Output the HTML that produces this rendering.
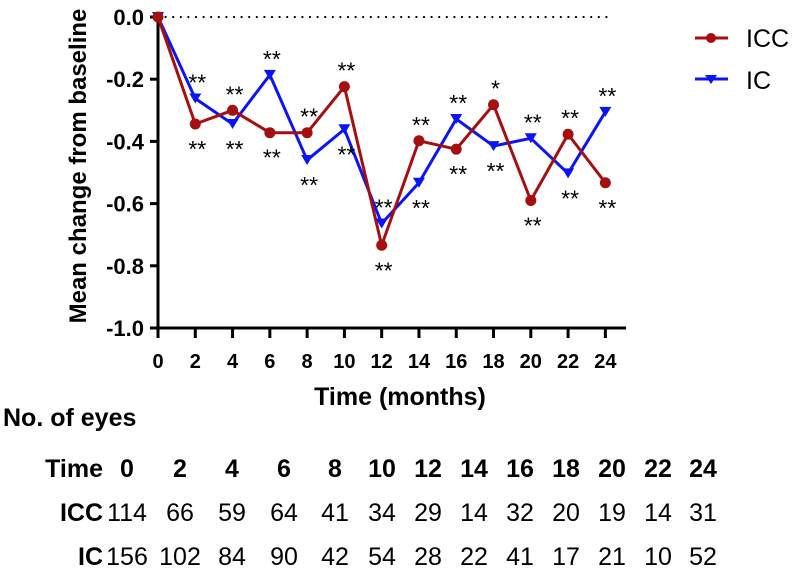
<!DOCTYPE html>
<html><head><meta charset="utf-8"><style>
body{margin:0;background:#fff;}
svg{display:block;font-family:"Liberation Sans",Arial,sans-serif;}
</style></head><body>
<svg id="c" width="796" height="570"></svg>
<script>
const months=[0,2,4,6,8,10,12,14,16,18,20,22,24];
const iccValues=[0,-0.344,-0.30,-0.372,-0.372,-0.224,-0.734,-0.398,-0.425,-0.282,-0.59,-0.377,-0.533];
const icValues=[0,-0.262,-0.344,-0.186,-0.46,-0.361,-0.664,-0.533,-0.328,-0.415,-0.39,-0.503,-0.305];
const iccSig=["","**","**","**","**","**","**","**","**","*","**","**","**"];
const icSig=["","**","**","**","**","**","**","**","**","**","**","**","**"];
const yTicks=[0,-0.2,-0.4,-0.6,-0.8,-1.0];
const yTickLabels=["0.0","-0.2","-0.4","-0.6","-0.8","-1.0"];
const iccCounts=[114,66,59,64,41,34,29,14,32,20,19,14,31];
const icCounts=[156,102,84,90,42,54,28,22,41,17,21,10,52];
const tableCols=[127,180,232,284,335,382,428,474,520,566,612,658,703];

const svg=document.getElementById('c');
const NS='http://www.w3.org/2000/svg';
const X=m=>158+m*18.64;
const Y=v=>17-v*311;
function mk(tag,attrs,text){const e=document.createElementNS(NS,tag);for(const k in attrs)e.setAttribute(k,attrs[k]);if(text!==undefined)e.textContent=text;svg.appendChild(e);return e;}

let e=mk('line',{x1:X(0),x2:X(24)+4,y1:Y(0),y2:Y(0),stroke:'#000','stroke-width':2.2,'stroke-dasharray':'0 7.6','stroke-linecap':'round'});


e=mk('line',{x1:158,x2:158,y1:12,y2:Y(-1)+1.5,stroke:'#000','stroke-width':3});


e=mk('line',{x1:156.5,x2:626,y1:Y(-1),y2:Y(-1),stroke:'#000','stroke-width':3});


yTicks.forEach((t,i)=>{
  e=mk('line',{x1:150,x2:158,y1:Y(t),y2:Y(t),stroke:'#000','stroke-width':3});
  
  
  e=mk('text',{x:144,y:Y(t)+8,'text-anchor':'end','font-size':22,'font-weight':'bold'},yTickLabels[i]);
  
  
});
months.forEach(m=>{
  e=mk('line',{x1:X(m),x2:X(m),y1:Y(-1),y2:Y(-1)+10,stroke:'#000','stroke-width':3});
  
  
  e=mk('text',{x:X(m),y:368,'text-anchor':'middle','font-size':20,'font-weight':'bold'},String(m));
  
  
});
e=mk('text',{x:400,y:405,'text-anchor':'middle','font-size':25,'font-weight':'bold'},'Time (months)');


e=mk('text',{x:0,y:0,'text-anchor':'middle','font-size':24,'font-weight':'bold',transform:'translate(86,166) rotate(-90)'},'Mean change from baseline');



e=mk('polyline',{points:months.map((m,i)=>X(m)+','+Y(icValues[i])).join(' '),fill:'none',stroke:'#0a14f5','stroke-width':3,'stroke-linejoin':'round'});


e=mk('polyline',{points:months.map((m,i)=>X(m)+','+Y(iccValues[i])).join(' '),fill:'none',stroke:'#a50f0f','stroke-width':3,'stroke-linejoin':'round'});


months.forEach((m,i)=>{
  const x=X(m),y=Y(icValues[i]);
  e=mk('polygon',{points:`${x-6},${y-5} ${x+6},${y-5} ${x},${y+5}`,fill:'#0a14f5'});
  
  
});
months.forEach((m,i)=>{
  e=mk('circle',{cx:X(m),cy:Y(iccValues[i]),r:5.5,fill:'#a50f0f'});
  
  
});
months.forEach((m,i)=>{
  if(i===0)return;
  const a=iccValues[i],b=icValues[i];
  const iccAbove=a>b;
  const put=(v,above,txt,name)=>{
    const y=above?Y(v)-8:Y(v)+33;
    e=mk('text',{x:X(m)+2,y:y,'text-anchor':'middle','font-size':23},txt);
    
    
  };
  put(a,iccAbove,iccSig[i],'icc-significance');
  put(b,!iccAbove,icSig[i],'ic-significance');
});

e=mk('line',{x1:695,x2:728,y1:38,y2:38,stroke:'#a50f0f','stroke-width':3});


e=mk('circle',{cx:711,cy:38,r:5,fill:'#a50f0f'});


e=mk('text',{x:746,y:47,'font-size':25},'ICC');


e=mk('line',{x1:695,x2:728,y1:79,y2:79,stroke:'#0a14f5','stroke-width':3});


e=mk('polygon',{points:'705,75 717,75 711,84',fill:'#0a14f5'});


e=mk('text',{x:746,y:89,'font-size':25},'IC');



e=mk('text',{x:3,y:426,'font-size':25,'font-weight':'bold'},'No. of eyes');


const rows=[['Time',months,477,true],['ICC',iccCounts,521,false],['IC',icCounts,565,false]];
rows.forEach(r=>{
  e=mk('text',{x:103,y:r[2],'text-anchor':'end','font-size':25,'font-weight':'bold'},r[0]);
  
  
  r[1].forEach((v,i)=>{
    const a={x:tableCols[i],y:r[2],'text-anchor':'middle','font-size':25};
    if(r[3])a['font-weight']='bold';
    e=mk('text',a,String(v));
    
    
  });
});
</script>
</body></html>
